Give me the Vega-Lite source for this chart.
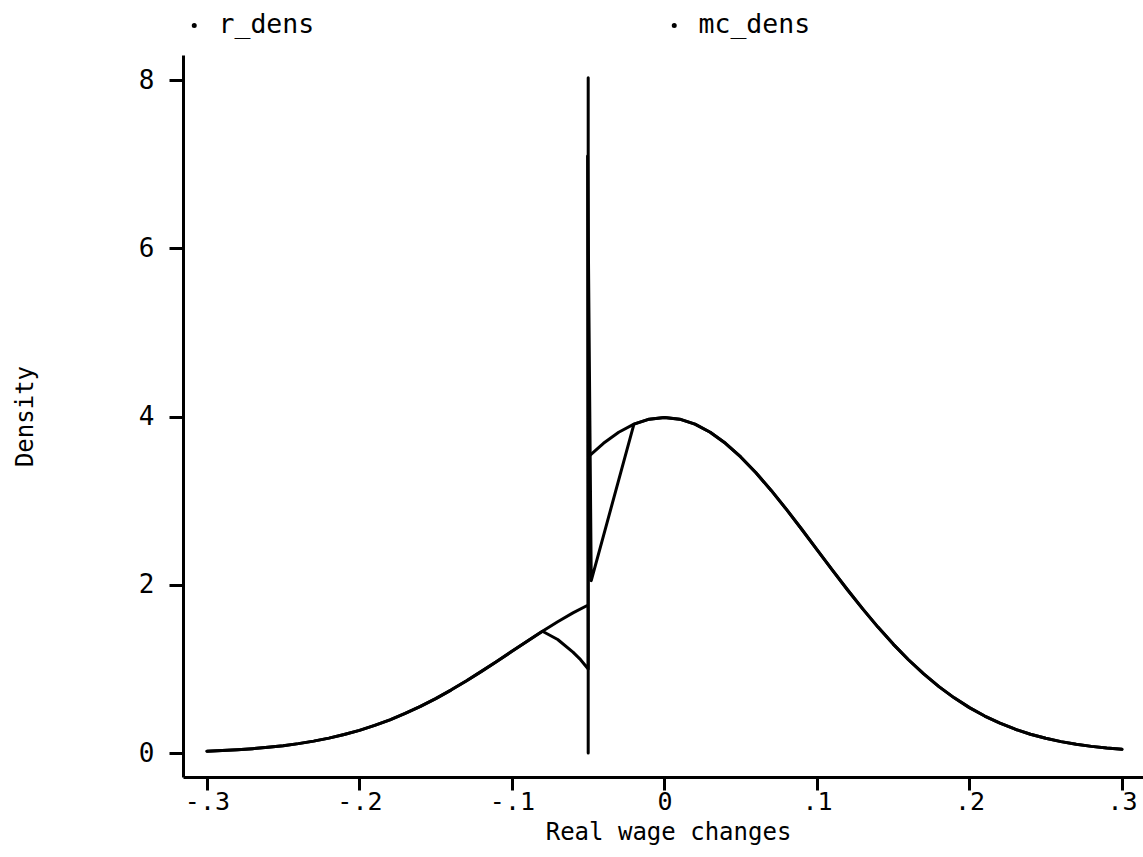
{
  "$schema": "https://vega.github.io/schema/vega-lite/v6.json",
  "width": 960,
  "height": 722,
  "autosize": {"type": "none"},
  "padding": {"left": 183, "top": 55, "right": 0, "bottom": 80},
  "background": "white",
  "config": {"view": {"stroke": null}, "font": "DejaVu Sans Mono"},
  "data": {"values": [
    {"s":"mc_dens","x":-0.30,"y":0.0222},{"s":"mc_dens","x":-0.29,"y":0.0298},{"s":"mc_dens","x":-0.28,"y":0.0396},{"s":"mc_dens","x":-0.27,"y":0.0521},{"s":"mc_dens","x":-0.26,"y":0.0679},{"s":"mc_dens","x":-0.25,"y":0.0876},{"s":"mc_dens","x":-0.24,"y":0.1120},{"s":"mc_dens","x":-0.23,"y":0.1417},{"s":"mc_dens","x":-0.22,"y":0.1774},{"s":"mc_dens","x":-0.21,"y":0.2199},{"s":"mc_dens","x":-0.20,"y":0.2700},{"s":"mc_dens","x":-0.19,"y":0.3281},{"s":"mc_dens","x":-0.18,"y":0.3948},{"s":"mc_dens","x":-0.17,"y":0.4703},{"s":"mc_dens","x":-0.16,"y":0.5546},{"s":"mc_dens","x":-0.15,"y":0.6476},{"s":"mc_dens","x":-0.14,"y":0.7487},{"s":"mc_dens","x":-0.13,"y":0.8569},{"s":"mc_dens","x":-0.12,"y":0.9710},{"s":"mc_dens","x":-0.11,"y":1.0893},{"s":"mc_dens","x":-0.10,"y":1.2099},{"s":"mc_dens","x":-0.09,"y":1.3304},{"s":"mc_dens","x":-0.08,"y":1.4485},{"s":"mc_dens","x":-0.07,"y":1.5613},{"s":"mc_dens","x":-0.06,"y":1.6661},{"s":"mc_dens","x":-0.05,"y":1.7604},{"s":"mc_dens","x":-0.05,"y":0},{"s":"mc_dens","x":-0.05,"y":8.03},{"s":"mc_dens","x":-0.05,"y":3.5207},{"s":"mc_dens","x":-0.04,"y":3.6827},{"s":"mc_dens","x":-0.03,"y":3.8139},{"s":"mc_dens","x":-0.02,"y":3.9104},{"s":"mc_dens","x":-0.01,"y":3.9695},{"s":"mc_dens","x":0.00,"y":3.9894},{"s":"mc_dens","x":0.01,"y":3.9695},{"s":"mc_dens","x":0.02,"y":3.9104},{"s":"mc_dens","x":0.03,"y":3.8139},{"s":"mc_dens","x":0.04,"y":3.6827},{"s":"mc_dens","x":0.05,"y":3.5207},{"s":"mc_dens","x":0.06,"y":3.3322},{"s":"mc_dens","x":0.07,"y":3.1225},{"s":"mc_dens","x":0.08,"y":2.8969},{"s":"mc_dens","x":0.09,"y":2.6608},{"s":"mc_dens","x":0.10,"y":2.4197},{"s":"mc_dens","x":0.11,"y":2.1785},{"s":"mc_dens","x":0.12,"y":1.9419},{"s":"mc_dens","x":0.13,"y":1.7137},{"s":"mc_dens","x":0.14,"y":1.4973},{"s":"mc_dens","x":0.15,"y":1.2952},{"s":"mc_dens","x":0.16,"y":1.1092},{"s":"mc_dens","x":0.17,"y":0.9405},{"s":"mc_dens","x":0.18,"y":0.7895},{"s":"mc_dens","x":0.19,"y":0.6562},{"s":"mc_dens","x":0.20,"y":0.5399},{"s":"mc_dens","x":0.21,"y":0.4398},{"s":"mc_dens","x":0.22,"y":0.3547},{"s":"mc_dens","x":0.23,"y":0.2833},{"s":"mc_dens","x":0.24,"y":0.2239},{"s":"mc_dens","x":0.25,"y":0.1753},{"s":"mc_dens","x":0.26,"y":0.1358},{"s":"mc_dens","x":0.27,"y":0.1042},{"s":"mc_dens","x":0.28,"y":0.0792},{"s":"mc_dens","x":0.29,"y":0.0595},{"s":"mc_dens","x":0.30,"y":0.0443},
    {"s":"r_dens","x":-0.30,"y":0.0222},{"s":"r_dens","x":-0.29,"y":0.0298},{"s":"r_dens","x":-0.28,"y":0.0396},{"s":"r_dens","x":-0.27,"y":0.0521},{"s":"r_dens","x":-0.26,"y":0.0679},{"s":"r_dens","x":-0.25,"y":0.0876},{"s":"r_dens","x":-0.24,"y":0.1120},{"s":"r_dens","x":-0.23,"y":0.1417},{"s":"r_dens","x":-0.22,"y":0.1774},{"s":"r_dens","x":-0.21,"y":0.2199},{"s":"r_dens","x":-0.20,"y":0.2700},{"s":"r_dens","x":-0.19,"y":0.3281},{"s":"r_dens","x":-0.18,"y":0.3948},{"s":"r_dens","x":-0.17,"y":0.4703},{"s":"r_dens","x":-0.16,"y":0.5546},{"s":"r_dens","x":-0.15,"y":0.6476},{"s":"r_dens","x":-0.14,"y":0.7487},{"s":"r_dens","x":-0.13,"y":0.8569},{"s":"r_dens","x":-0.12,"y":0.9710},{"s":"r_dens","x":-0.11,"y":1.0893},{"s":"r_dens","x":-0.10,"y":1.2099},{"s":"r_dens","x":-0.09,"y":1.3304},{"s":"r_dens","x":-0.08,"y":1.4485},{"s":"r_dens","x":-0.07,"y":1.35},{"s":"r_dens","x":-0.06,"y":1.20},{"s":"r_dens","x":-0.055,"y":1.11},{"s":"r_dens","x":-0.05,"y":1.0},{"s":"r_dens","x":-0.0504,"y":7.1},{"s":"r_dens","x":-0.0480,"y":2.05},{"s":"r_dens","x":-0.02,"y":3.9104},{"s":"r_dens","x":-0.01,"y":3.9695},{"s":"r_dens","x":0.00,"y":3.9894},{"s":"r_dens","x":0.01,"y":3.9695},{"s":"r_dens","x":0.02,"y":3.9104},{"s":"r_dens","x":0.03,"y":3.8139},{"s":"r_dens","x":0.04,"y":3.6827},{"s":"r_dens","x":0.05,"y":3.5207},{"s":"r_dens","x":0.06,"y":3.3322},{"s":"r_dens","x":0.07,"y":3.1225},{"s":"r_dens","x":0.08,"y":2.8969},{"s":"r_dens","x":0.09,"y":2.6608},{"s":"r_dens","x":0.10,"y":2.4197},{"s":"r_dens","x":0.11,"y":2.1785},{"s":"r_dens","x":0.12,"y":1.9419},{"s":"r_dens","x":0.13,"y":1.7137},{"s":"r_dens","x":0.14,"y":1.4973},{"s":"r_dens","x":0.15,"y":1.2952},{"s":"r_dens","x":0.16,"y":1.1092},{"s":"r_dens","x":0.17,"y":0.9405},{"s":"r_dens","x":0.18,"y":0.7895},{"s":"r_dens","x":0.19,"y":0.6562},{"s":"r_dens","x":0.20,"y":0.5399},{"s":"r_dens","x":0.21,"y":0.4398},{"s":"r_dens","x":0.22,"y":0.3547},{"s":"r_dens","x":0.23,"y":0.2833},{"s":"r_dens","x":0.24,"y":0.2239},{"s":"r_dens","x":0.25,"y":0.1753},{"s":"r_dens","x":0.26,"y":0.1358},{"s":"r_dens","x":0.27,"y":0.1042},{"s":"r_dens","x":0.28,"y":0.0792},{"s":"r_dens","x":0.29,"y":0.0595},{"s":"r_dens","x":0.30,"y":0.0443}
  ]},
  "mark": {"type": "line", "strokeWidth": 3, "strokeJoin": "round", "strokeCap": "round"},
  "encoding": {
    "x": {
      "field": "x", "type": "quantitative",
      "scale": {"domain": [-0.3157, 0.3138], "nice": false, "zero": false},
      "axis": {
        "values": [-0.3, -0.2, -0.1, 0, 0.1, 0.2, 0.3],
        "labelExpr": "(datum.value < 0 ? '-' : '') + (datum.value == 0 ? '0' : replace(format(abs(datum.value), '.1f'), '0.', '.'))",
        "title": "Real wage changes",
        "grid": false,
        "domainColor": "black", "domainWidth": 3,
        "tickColor": "black", "tickWidth": 3, "tickSize": 13,
        "labelFont": "DejaVu Sans Mono", "labelFontSize": 25, "labelColor": "black", "labelPadding": -1, "labelFlush": false,
        "titleFont": "DejaVu Sans Mono", "titleFontSize": 24, "titleFontWeight": "normal", "titleColor": "black",
        "titleX": 485, "titleY": 62, "titleBaseline": "alphabetic", "titleAlign": "center"
      }
    },
    "y": {
      "field": "y", "type": "quantitative",
      "scale": {"domain": [-0.285, 8.3], "nice": false, "zero": false},
      "axis": {
        "values": [0, 2, 4, 6, 8],
        "title": "Density",
        "grid": false,
        "domainColor": "black", "domainWidth": 3,
        "tickColor": "black", "tickWidth": 3, "tickSize": 14,
        "labelFont": "DejaVu Sans Mono", "labelFontSize": 26, "labelColor": "black", "labelPadding": 15, "labelFlush": false, "labelBaseline": "middle",
        "titleFont": "DejaVu Sans Mono", "titleFontSize": 24, "titleFontWeight": "normal", "titleColor": "black",
        "titleX": -158, "titleY": 361, "titleAngle": 270, "titleBaseline": "middle", "titleAlign": "center"
      }
    },
    "color": {
      "field": "s", "type": "nominal",
      "scale": {"domain": ["r_dens", "mc_dens"], "range": ["black", "black"]},
      "legend": {
        "orient": "none", "legendX": -2, "legendY": -43,
        "direction": "horizontal", "columns": 2, "columnPadding": 346,
        "title": null, "padding": 0,
        "symbolType": "circle", "symbolSize": 4, "symbolStrokeWidth": 3, "symbolFillColor": "black", "symbolStrokeColor": "black",
        "labelFont": "DejaVu Sans Mono", "labelFontSize": 26.5, "labelColor": "black", "labelOffset": 11
      }
    },
    "order": {"value": null}
  }
}
